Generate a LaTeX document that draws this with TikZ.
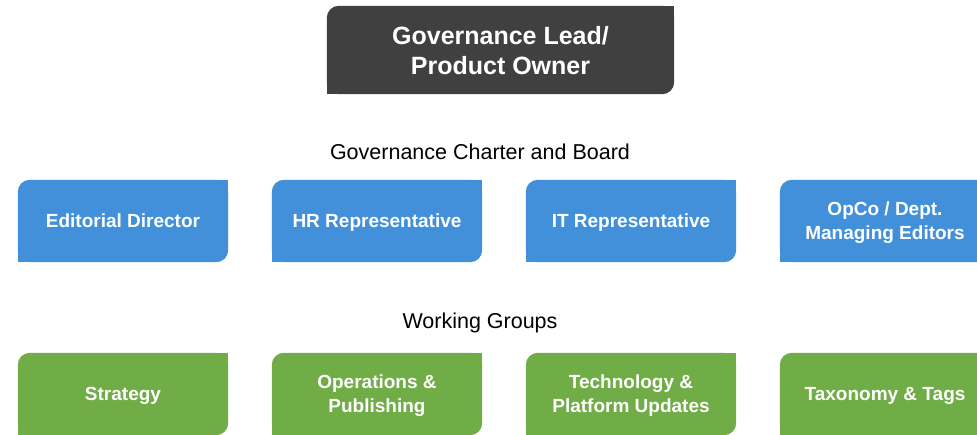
\documentclass[tikz,border=0pt]{standalone}
\usepackage{fontspec}
\setmainfont{Liberation Sans}
\usetikzlibrary{backgrounds}
\definecolor{leadgray}{HTML}{404040}
\definecolor{boardblue}{HTML}{4390DA}
\definecolor{groupgreen}{HTML}{70AD47}

\begin{document}
\begin{tikzpicture}[x=1pt,y=1pt,
    card/.style={minimum width=210pt,minimum height=82pt,inner sep=0pt,text=white,align=center,
                 text depth=0pt,font=\fontsize{19}{24}\selectfont\bfseries},
    heading/.style={font=\fontsize{21.5}{26}\selectfont}]
    \useasboundingbox (0,0) rectangle (977,435);
    \clip (0,0) rectangle (977,435);

    \node[card,minimum width=347pt,minimum height=88pt,
          font=\fontsize{25}{30}\selectfont\bfseries] (lead) at (500.5,385) {Governance Lead/\\Product Owner};

    \node[heading] (board) at (480,283) {Governance Charter and Board};
    \node[card] (ed)   at (123,214) {Editorial Director};
    \node[card] (hr)   at (377,214) {HR Representative};
    \node[card] (it)   at (631,214) {IT Representative};
    \node[card] (opco) at (885,214) {OpCo / Dept.\\Managing Editors};

    \node[heading] (groups) at (480,112) {Working Groups};
    \node[card] (strat) at (123,41) {Strategy};
    \node[card] (ops)   at (377,41) {Operations \&\\Publishing};
    \node[card] (tech)  at (631,41) {Technology \&\\Platform Updates};
    \node[card] (tax)   at (885,41) {Taxonomy \& Tags};

    % card fills: round top left and bottom right only
    \begin{scope}[on background layer]
        \foreach \n/\c in {lead/leadgray,ed/boardblue,hr/boardblue,it/boardblue,opco/boardblue,
                           strat/groupgreen,ops/groupgreen,tech/groupgreen,tax/groupgreen}{
            \fill[\c,rounded corners=12pt] (\n.south west) rectangle (\n.north east);
            \fill[\c] (\n.north east) rectangle +(-14,-14);
            \fill[\c] (\n.south west) rectangle +(14,14);
        }
    \end{scope}
\end{tikzpicture}
\end{document}
